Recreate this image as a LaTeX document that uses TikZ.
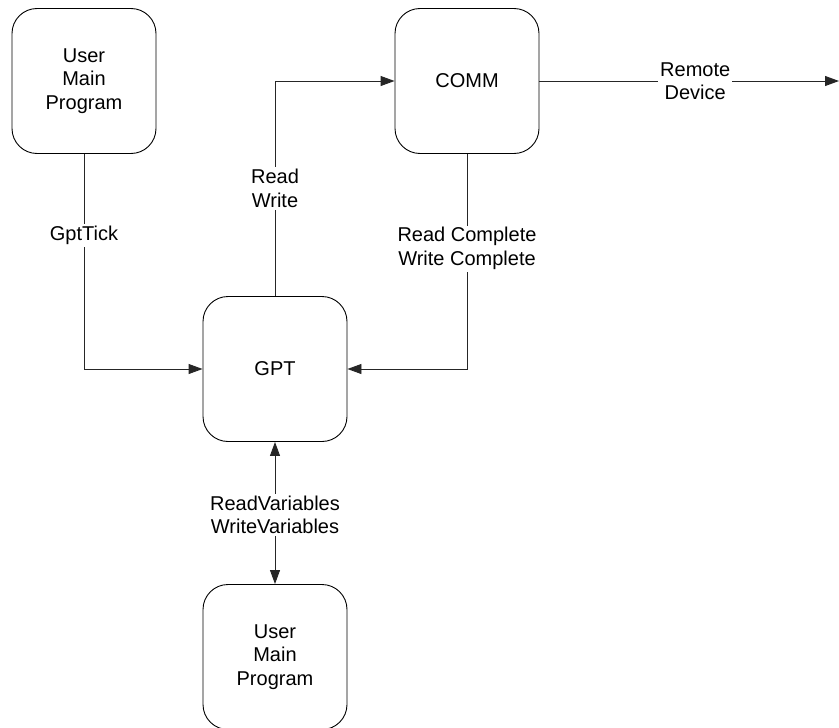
\documentclass[tikz,border=0pt]{standalone}
\usepackage{fontspec}
\setmainfont{Liberation Sans}
\usetikzlibrary{arrows.meta}
\begin{document}
\begin{tikzpicture}[x=1pt,y=-1pt,
  block/.style={draw=black,line width=0.9pt,rounded corners=25pt,
    minimum width=144pt,minimum height=145pt,inner sep=0pt,
    align=center,font=\fontsize{20}{23.5}\selectfont},
  link/.style={draw=black!85,line width=0.9pt},
  tip/.style={-{Triangle[length=14pt,width=10pt]}},
  lbl/.style={fill=white,inner sep=2pt,align=center,
    font=\fontsize{20}{23.5}\selectfont}]
  \useasboundingbox (0,0) rectangle (839,728);

  % blocks
  \node[block] (ump)  at (84,81)   {User\\Main\\Program};
  \node[block] (comm) at (467,81)  {COMM};
  \node[block] (gpt)  at (275,369) {GPT};
  \node[block] (umpb) at (275,657) {User\\Main\\Program};
  \coordinate (remote) at (839,81);

  % connectors
  \draw[link,tip] (ump.south) |- (gpt.west)
    node[lbl,pos=0.19] {GptTick};
  \draw[link,tip] (gpt.north) |- (comm.west)
    node[lbl,pos=0.25] {Read\\Write};
  \draw[link,tip] (comm.south) |- (gpt.east)
    node[lbl,pos=0.22] {Read Complete\\Write Complete};
  \draw[link,tip] (comm.east) -- (remote)
    node[lbl,pos=0.52] {Remote\\Device};
  \draw[link,{Triangle[length=14pt,width=10pt]}-{Triangle[length=14pt,width=10pt]}]
    (gpt.south) -- (umpb.north)
    node[lbl,midway,yshift=-2pt] {ReadVariables\\WriteVariables};
\end{tikzpicture}
\end{document}
